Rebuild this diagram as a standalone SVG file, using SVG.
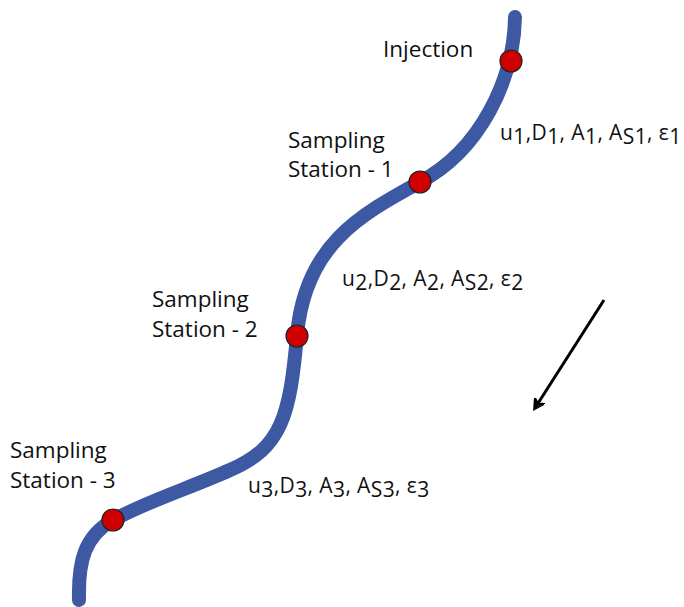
<svg xmlns="http://www.w3.org/2000/svg" width="684" height="607" viewBox="0 0 684 607">
<style>
.t{font-family:"Open Sans","Liberation Sans",sans-serif;font-size:22.5px;fill:#111}
.p{font-family:"Open Sans","Liberation Sans",sans-serif;font-size:21px;fill:#111;letter-spacing:0.4px}
.dot{fill:#d10000;stroke:#222;stroke-width:1.2}
</style>
<defs>
<marker id="ah" markerWidth="12" markerHeight="12" refX="9" refY="6" orient="auto" markerUnits="userSpaceOnUse">
<path d="M1,1 L10,6 L1,11 L4,6 Z" fill="none" stroke="#000" stroke-width="2.5"/>
</marker>
</defs>
<rect width="684" height="607" fill="#fff"/>
<g id="connectors">
<path id="river" d="M515,17 C514,80 480,150 420,182 C360,215 305,245 297,335 C290,415 282,448 230,470 C190,488 150,500 113,520 C85,536 78,560 79,600" fill="none" stroke="#3d59a4" stroke-width="14" stroke-linecap="round"/>
<line x1="604" y1="300" x2="535" y2="408" stroke="#000" stroke-width="3" marker-end="url(#ah)"/>
</g>
<g id="injection">
<circle class="dot" cx="511" cy="61" r="11"/>
<text class="t" x="383" y="57">Injection</text>
</g>
<g id="station1">
<circle class="dot" cx="420" cy="182" r="11"/>
<text class="t" x="288" y="148">Sampling</text>
<text class="t" x="288" y="177">Station - 1</text>
</g>
<g id="station2">
<circle class="dot" cx="297" cy="336" r="11"/>
<text class="t" x="152" y="307">Sampling</text>
<text class="t" x="152" y="337">Station - 2</text>
</g>
<g id="station3">
<circle class="dot" cx="113" cy="520" r="11"/>
<text class="t" x="10" y="458">Sampling</text>
<text class="t" x="10" y="488">Station - 3</text>
</g>
<g id="params1">
<text class="p" x="500" y="140">u<tspan dy="4">1</tspan><tspan dy="-4">,D</tspan><tspan dy="4">1</tspan><tspan dy="-4">, A</tspan><tspan dy="4">1</tspan><tspan dy="-4">, A</tspan><tspan dy="4">S1</tspan><tspan dy="-4">, ε</tspan><tspan dy="4">1</tspan></text>
</g>
<g id="params2">
<text class="p" x="342" y="286">u<tspan dy="4">2</tspan><tspan dy="-4">,D</tspan><tspan dy="4">2</tspan><tspan dy="-4">, A</tspan><tspan dy="4">2</tspan><tspan dy="-4">, A</tspan><tspan dy="4">S2</tspan><tspan dy="-4">, ε</tspan><tspan dy="4">2</tspan></text>
</g>
<g id="params3">
<text class="p" x="248" y="493">u<tspan dy="4">3</tspan><tspan dy="-4">,D</tspan><tspan dy="4">3</tspan><tspan dy="-4">, A</tspan><tspan dy="4">3</tspan><tspan dy="-4">, A</tspan><tspan dy="4">S3</tspan><tspan dy="-4">, ε</tspan><tspan dy="4">3</tspan></text>
</g>
</svg>
